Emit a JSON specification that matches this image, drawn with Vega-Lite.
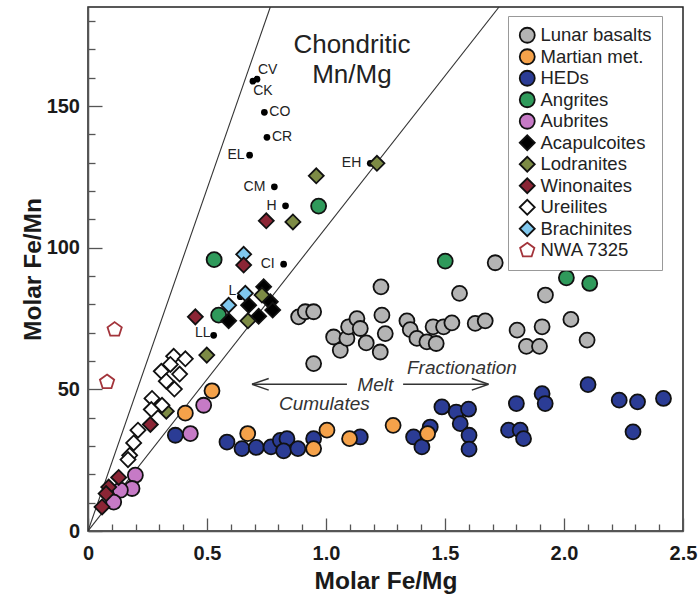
{
  "$schema": "https://vega.github.io/schema/vega-lite/v6.json",
  "width": 595,
  "height": 524,
  "autosize": {"type": "none"},
  "padding": {"left": 88, "top": 7, "right": 16, "bottom": 64},
  "background": "white",
  "config": {
    "view": {"stroke": "#222", "strokeWidth": 1.5},
    "font": "Liberation Sans",
    "axis": {
      "grid": false,
      "domainColor": "#555",
      "domainWidth": 1.5,
      "tickColor": "#555",
      "tickWidth": 1.3,
      "labelFont": "Liberation Sans",
      "labelFontWeight": "bold",
      "labelFontSize": 20,
      "labelColor": "#1a1a1a",
      "titleFont": "Liberation Sans",
      "titleFontWeight": "bold",
      "titleFontSize": 24.5,
      "titleColor": "#1a1a1a",
      "labelFlush": false
    }
  },
  "datasets": {
    "meteorites": [
      {"g": "Lunar basalts", "x": 0.885, "y": 75.6},
      {"g": "Lunar basalts", "x": 0.913, "y": 77.4},
      {"g": "Lunar basalts", "x": 0.948, "y": 77.4},
      {"g": "Lunar basalts", "x": 0.948, "y": 59.1},
      {"g": "Lunar basalts", "x": 1.032, "y": 68.5},
      {"g": "Lunar basalts", "x": 1.060, "y": 63.8},
      {"g": "Lunar basalts", "x": 1.088, "y": 68.0},
      {"g": "Lunar basalts", "x": 1.095, "y": 72.1},
      {"g": "Lunar basalts", "x": 1.130, "y": 75.0},
      {"g": "Lunar basalts", "x": 1.144, "y": 71.5},
      {"g": "Lunar basalts", "x": 1.169, "y": 66.4},
      {"g": "Lunar basalts", "x": 1.228, "y": 63.2},
      {"g": "Lunar basalts", "x": 1.235, "y": 76.2},
      {"g": "Lunar basalts", "x": 1.249, "y": 69.7},
      {"g": "Lunar basalts", "x": 1.231, "y": 86.2},
      {"g": "Lunar basalts", "x": 1.340, "y": 74.2},
      {"g": "Lunar basalts", "x": 1.354, "y": 71.1},
      {"g": "Lunar basalts", "x": 1.382, "y": 68.0},
      {"g": "Lunar basalts", "x": 1.424, "y": 66.8},
      {"g": "Lunar basalts", "x": 1.463, "y": 66.2},
      {"g": "Lunar basalts", "x": 1.450, "y": 72.1},
      {"g": "Lunar basalts", "x": 1.494, "y": 72.1},
      {"g": "Lunar basalts", "x": 1.529, "y": 73.5},
      {"g": "Lunar basalts", "x": 1.627, "y": 73.3},
      {"g": "Lunar basalts", "x": 1.669, "y": 74.2},
      {"g": "Lunar basalts", "x": 1.561, "y": 83.9},
      {"g": "Lunar basalts", "x": 1.711, "y": 94.7},
      {"g": "Lunar basalts", "x": 1.803, "y": 70.9},
      {"g": "Lunar basalts", "x": 1.842, "y": 65.2},
      {"g": "Lunar basalts", "x": 1.897, "y": 65.2},
      {"g": "Lunar basalts", "x": 1.908, "y": 72.1},
      {"g": "Lunar basalts", "x": 1.922, "y": 83.3},
      {"g": "Lunar basalts", "x": 2.029, "y": 74.7},
      {"g": "Lunar basalts", "x": 2.097, "y": 67.4},
      {"g": "HEDs", "x": 0.367, "y": 33.8},
      {"g": "HEDs", "x": 0.584, "y": 31.4},
      {"g": "HEDs", "x": 0.647, "y": 29.1},
      {"g": "HEDs", "x": 0.707, "y": 29.5},
      {"g": "HEDs", "x": 0.769, "y": 29.7},
      {"g": "HEDs", "x": 0.808, "y": 32.0},
      {"g": "HEDs", "x": 0.836, "y": 32.6},
      {"g": "HEDs", "x": 0.822, "y": 28.3},
      {"g": "HEDs", "x": 0.882, "y": 29.1},
      {"g": "HEDs", "x": 0.948, "y": 32.6},
      {"g": "HEDs", "x": 1.144, "y": 33.2},
      {"g": "HEDs", "x": 1.368, "y": 33.2},
      {"g": "HEDs", "x": 1.403, "y": 29.7},
      {"g": "HEDs", "x": 1.438, "y": 36.7},
      {"g": "HEDs", "x": 1.487, "y": 43.8},
      {"g": "HEDs", "x": 1.547, "y": 42.0},
      {"g": "HEDs", "x": 1.599, "y": 43.0},
      {"g": "HEDs", "x": 1.564, "y": 37.9},
      {"g": "HEDs", "x": 1.601, "y": 33.8},
      {"g": "HEDs", "x": 1.601, "y": 28.9},
      {"g": "HEDs", "x": 1.800, "y": 45.0},
      {"g": "HEDs", "x": 1.908, "y": 48.5},
      {"g": "HEDs", "x": 1.921, "y": 45.0},
      {"g": "HEDs", "x": 1.767, "y": 35.6},
      {"g": "HEDs", "x": 1.816, "y": 35.6},
      {"g": "HEDs", "x": 1.830, "y": 32.6},
      {"g": "HEDs", "x": 2.101, "y": 51.7},
      {"g": "HEDs", "x": 2.232, "y": 46.2},
      {"g": "HEDs", "x": 2.309, "y": 45.6},
      {"g": "HEDs", "x": 2.418, "y": 46.8},
      {"g": "HEDs", "x": 2.290, "y": 35.0},
      {"g": "Martian met.", "x": 0.521, "y": 49.5},
      {"g": "Martian met.", "x": 0.409, "y": 41.6},
      {"g": "Martian met.", "x": 0.671, "y": 34.4},
      {"g": "Martian met.", "x": 1.004, "y": 35.6},
      {"g": "Martian met.", "x": 0.948, "y": 29.1},
      {"g": "Martian met.", "x": 1.099, "y": 32.6},
      {"g": "Martian met.", "x": 1.282, "y": 37.3},
      {"g": "Martian met.", "x": 1.427, "y": 34.4},
      {"g": "Aubrites", "x": 0.199, "y": 19.7},
      {"g": "Aubrites", "x": 0.185, "y": 15.0},
      {"g": "Aubrites", "x": 0.136, "y": 14.4},
      {"g": "Aubrites", "x": 0.108, "y": 10.2},
      {"g": "Aubrites", "x": 0.430, "y": 34.4},
      {"g": "Aubrites", "x": 0.486, "y": 44.4},
      {"g": "Angrites", "x": 0.969, "y": 114.7},
      {"g": "Angrites", "x": 0.530, "y": 95.8},
      {"g": "Angrites", "x": 0.549, "y": 76.2},
      {"g": "Angrites", "x": 1.501, "y": 95.3},
      {"g": "Angrites", "x": 2.010, "y": 89.4},
      {"g": "Angrites", "x": 2.108, "y": 87.4},
      {"g": "Acapulcoites", "x": 0.738, "y": 86.2},
      {"g": "Acapulcoites", "x": 0.766, "y": 80.9},
      {"g": "Acapulcoites", "x": 0.675, "y": 79.7},
      {"g": "Acapulcoites", "x": 0.776, "y": 78.0},
      {"g": "Acapulcoites", "x": 0.717, "y": 75.8},
      {"g": "Acapulcoites", "x": 0.591, "y": 74.2},
      {"g": "Lodranites", "x": 0.959, "y": 125.4},
      {"g": "Lodranites", "x": 0.861, "y": 109.1},
      {"g": "Lodranites", "x": 1.214, "y": 129.8},
      {"g": "Lodranites", "x": 0.731, "y": 83.3},
      {"g": "Lodranites", "x": 0.672, "y": 74.2},
      {"g": "Lodranites", "x": 0.499, "y": 62.1},
      {"g": "Lodranites", "x": 0.329, "y": 42.3},
      {"g": "Brachinites", "x": 0.654, "y": 97.7},
      {"g": "Brachinites", "x": 0.661, "y": 83.9},
      {"g": "Brachinites", "x": 0.591, "y": 79.7},
      {"g": "Winonaites", "x": 0.749, "y": 109.5},
      {"g": "Winonaites", "x": 0.654, "y": 93.9},
      {"g": "Winonaites", "x": 0.451, "y": 75.6},
      {"g": "Winonaites", "x": 0.262, "y": 37.6},
      {"g": "Winonaites", "x": 0.129, "y": 18.9},
      {"g": "Winonaites", "x": 0.087, "y": 15.5},
      {"g": "Winonaites", "x": 0.076, "y": 13.2},
      {"g": "Winonaites", "x": 0.059, "y": 8.5},
      {"g": "Ureilites", "x": 0.360, "y": 61.7},
      {"g": "Ureilites", "x": 0.409, "y": 60.8},
      {"g": "Ureilites", "x": 0.346, "y": 58.8},
      {"g": "Ureilites", "x": 0.308, "y": 56.4},
      {"g": "Ureilites", "x": 0.385, "y": 55.4},
      {"g": "Ureilites", "x": 0.329, "y": 52.9},
      {"g": "Ureilites", "x": 0.363, "y": 50.1},
      {"g": "Ureilites", "x": 0.269, "y": 46.8},
      {"g": "Ureilites", "x": 0.311, "y": 44.4},
      {"g": "Ureilites", "x": 0.266, "y": 42.9},
      {"g": "Ureilites", "x": 0.210, "y": 35.6},
      {"g": "Ureilites", "x": 0.192, "y": 31.1},
      {"g": "Ureilites", "x": 0.175, "y": 26.7},
      {"g": "Ureilites", "x": 0.168, "y": 25.2},
      {"g": "NWA 7325", "x": 0.112, "y": 71.1},
      {"g": "NWA 7325", "x": 0.080, "y": 52.6}
    ],
    "chondrites": [
      {"name": "CV", "x": 0.693, "y": 158.8},
      {"name": "CK", "x": 0.710, "y": 159.5},
      {"name": "CO", "x": 0.741, "y": 147.8},
      {"name": "CR", "x": 0.752, "y": 139.0},
      {"name": "EL", "x": 0.679, "y": 132.7},
      {"name": "CM", "x": 0.783, "y": 121.5},
      {"name": "H", "x": 0.830, "y": 114.8},
      {"name": "EH", "x": 1.186, "y": 129.8},
      {"name": "CI", "x": 0.822, "y": 94.2},
      {"name": "L", "x": 0.640, "y": 82.7},
      {"name": "LL", "x": 0.528, "y": 69.1}
    ],
    "arrows": [
      {"arrow": "left", "x": 0.689, "x2": 1.088, "y": 51.8},
      {"arrow": "right", "x": 1.324, "x2": 1.683, "y": 51.8}
    ]
  },
  "layer": [
    {
      "data": {"values": [
        {"line": "a", "x": 0, "y": 0}, {"line": "a", "x": 0.766, "y": 185},
        {"line": "b", "x": 0, "y": 0}, {"line": "b", "x": 1.727, "y": 185}
      ]},
      "mark": {"type": "line", "color": "#333", "strokeWidth": 1.1, "clip": true},
      "encoding": {
        "x": {"field": "x", "type": "quantitative", "scale": {"domain": [0, 2.5], "nice": false, "zero": false},
          "axis": {"orient": "bottom", "values": [0.1,0.2,0.3,0.4,0.6,0.7,0.8,0.9,1.1,1.2,1.3,1.4,1.6,1.7,1.8,1.9,2.1,2.2,2.3,2.4], "labels": false, "tickSize": -7, "domain": false, "title": null}},
        "y": {"field": "y", "type": "quantitative", "scale": {"domain": [0, 185], "nice": false, "zero": false},
          "axis": {"orient": "left", "values": [10,20,30,40,60,70,80,90,110,120,130,140,160,170,180], "labels": false, "tickSize": -7, "domain": false, "title": null}},
        "detail": {"field": "line"}
      }
    },
    {
      "data": {"name": "chondrites"},
      "mark": {"type": "point", "filled": true, "color": "#000", "size": 45, "opacity": 1},
      "encoding": {
        "x": {"field": "x", "type": "quantitative", "scale": {"domain": [0, 2.5], "nice": false, "zero": false}, "axis": null},
        "y": {"field": "y", "type": "quantitative", "scale": {"domain": [0, 185], "nice": false, "zero": false}, "axis": null}
      }
    },
    {
      "data": {"name": "meteorites"},
      "mark": {"type": "point", "filled": true, "opacity": 1},
      "encoding": {
        "x": {"field": "x", "type": "quantitative", "scale": {"domain": [0, 2.5], "nice": false, "zero": false},
          "axis": {"orient": "bottom", "values": [0, 0.5, 1, 1.5, 2, 2.5], "format": ".1f", "labelExpr": "datum.value == 0 ? '0' : datum.label", "tickSize": -13, "labelPadding": 25, "title": "Molar Fe/Mg", "titleBaseline": "alphabetic", "titleY": 57}},
        "y": {"field": "y", "type": "quantitative", "scale": {"domain": [0, 185], "nice": false, "zero": false},
          "axis": {"orient": "left", "values": [0, 50, 100, 150], "tickSize": -14, "labelPadding": 22.5, "title": "Molar Fe/Mn", "titleBaseline": "alphabetic", "titleX": -48}},
        "fill": {"field": "g", "type": "nominal",
          "scale": {"domain": ["Lunar basalts","Martian met.","HEDs","Angrites","Aubrites","Acapulcoites","Lodranites","Winonaites","Ureilites","Brachinites","NWA 7325"],
                    "range": ["#b4b4b4","#f5a24a","#2b3c95","#2f9a5b","#c67ac6","#000000","#7d8b45","#8b2535","#ffffff","#80c8ee","#ffffff"]},
          "legend": {"title": null, "orient": "none", "legendX": 420, "legendY": 9, "padding": 10, "strokeColor": "#999", "fillColor": "#fff", "labelFont": "Liberation Sans", "labelFontSize": 18.5, "labelColor": "#222", "labelOffset": 4, "rowPadding": -1.5}},
        "stroke": {"field": "g", "type": "nominal",
          "scale": {"domain": ["Lunar basalts","Martian met.","HEDs","Angrites","Aubrites","Acapulcoites","Lodranites","Winonaites","Ureilites","Brachinites","NWA 7325"],
                    "range": ["#111","#111","#111","#111","#111","#111","#111","#111","#111","#111","#a3343b"]}},
        "strokeWidth": {"field": "g", "type": "nominal",
          "scale": {"domain": ["Lunar basalts","Martian met.","HEDs","Angrites","Aubrites","Acapulcoites","Lodranites","Winonaites","Ureilites","Brachinites","NWA 7325"],
                    "range": [1.8,1.8,1.8,1.8,1.8,1.6,1.6,1.6,1.6,1.6,3]}},
        "shape": {"field": "g", "type": "nominal",
          "scale": {"domain": ["Lunar basalts","Martian met.","HEDs","Angrites","Aubrites","Acapulcoites","Lodranites","Winonaites","Ureilites","Brachinites","NWA 7325"],
                    "range": ["circle","circle","circle","circle","circle","diamond","diamond","diamond","diamond","diamond","M0,-1L0.951,-0.309L0.588,0.809L-0.588,0.809L-0.951,-0.309Z"]}},
        "size": {"field": "g", "type": "nominal",
          "scale": {"domain": ["Lunar basalts","Martian met.","HEDs","Angrites","Aubrites","Acapulcoites","Lodranites","Winonaites","Ureilites","Brachinites","NWA 7325"],
                    "range": [225,225,225,225,225,175,150,80,130,140,250]}}
      }
    },
    {
      "data": {"name": "chondrites"},
      "transform": [{"filter": {"field": "name", "oneOf": ["CM", "H", "EH", "CI"]}}],
      "mark": {"type": "text", "align": "right", "baseline": "middle", "dx": -9, "fontSize": 14, "color": "#222"},
      "encoding": {
        "x": {"field": "x", "type": "quantitative", "scale": {"domain": [0, 2.5], "nice": false, "zero": false}, "axis": null},
        "y": {"field": "y", "type": "quantitative", "scale": {"domain": [0, 185], "nice": false, "zero": false}, "axis": null},
        "text": {"field": "name"}
      }
    },
    {
      "data": {"name": "chondrites"},
      "transform": [{"filter": {"field": "name", "oneOf": ["EL"]}}],
      "mark": {"type": "text", "align": "right", "baseline": "middle", "dx": -5, "fontSize": 14, "color": "#222"},
      "encoding": {
        "x": {"field": "x", "type": "quantitative", "scale": {"domain": [0, 2.5], "nice": false, "zero": false}, "axis": null},
        "y": {"field": "y", "type": "quantitative", "scale": {"domain": [0, 185], "nice": false, "zero": false}, "axis": null},
        "text": {"field": "name"}
      }
    },
    {
      "data": {"name": "chondrites"},
      "transform": [{"filter": {"field": "name", "oneOf": ["L"]}}],
      "mark": {"type": "text", "align": "right", "baseline": "middle", "dx": -4, "dy": -6, "fontSize": 14, "color": "#222"},
      "encoding": {
        "x": {"field": "x", "type": "quantitative", "scale": {"domain": [0, 2.5], "nice": false, "zero": false}, "axis": null},
        "y": {"field": "y", "type": "quantitative", "scale": {"domain": [0, 185], "nice": false, "zero": false}, "axis": null},
        "text": {"field": "name"}
      }
    },
    {
      "data": {"name": "chondrites"},
      "transform": [{"filter": {"field": "name", "oneOf": ["LL"]}}],
      "mark": {"type": "text", "align": "right", "baseline": "middle", "dx": -3, "dy": -2, "fontSize": 14, "color": "#222"},
      "encoding": {
        "x": {"field": "x", "type": "quantitative", "scale": {"domain": [0, 2.5], "nice": false, "zero": false}, "axis": null},
        "y": {"field": "y", "type": "quantitative", "scale": {"domain": [0, 185], "nice": false, "zero": false}, "axis": null},
        "text": {"field": "name"}
      }
    },
    {
      "data": {"name": "chondrites"},
      "transform": [{"filter": {"field": "name", "oneOf": ["CO", "CR"]}}],
      "mark": {"type": "text", "align": "left", "baseline": "middle", "dx": 5, "fontSize": 14, "color": "#222"},
      "encoding": {
        "x": {"field": "x", "type": "quantitative", "scale": {"domain": [0, 2.5], "nice": false, "zero": false}, "axis": null},
        "y": {"field": "y", "type": "quantitative", "scale": {"domain": [0, 185], "nice": false, "zero": false}, "axis": null},
        "text": {"field": "name"}
      }
    },
    {
      "data": {"name": "chondrites"},
      "transform": [{"filter": {"field": "name", "oneOf": ["CV"]}}],
      "mark": {"type": "text", "align": "left", "baseline": "middle", "dx": 5, "dy": -11, "fontSize": 14, "color": "#222"},
      "encoding": {
        "x": {"field": "x", "type": "quantitative", "scale": {"domain": [0, 2.5], "nice": false, "zero": false}, "axis": null},
        "y": {"field": "y", "type": "quantitative", "scale": {"domain": [0, 185], "nice": false, "zero": false}, "axis": null},
        "text": {"field": "name"}
      }
    },
    {
      "data": {"name": "chondrites"},
      "transform": [{"filter": {"field": "name", "oneOf": ["CK"]}}],
      "mark": {"type": "text", "align": "center", "baseline": "middle", "dx": 6, "dy": 12, "fontSize": 14, "color": "#222"},
      "encoding": {
        "x": {"field": "x", "type": "quantitative", "scale": {"domain": [0, 2.5], "nice": false, "zero": false}, "axis": null},
        "y": {"field": "y", "type": "quantitative", "scale": {"domain": [0, 185], "nice": false, "zero": false}, "axis": null},
        "text": {"field": "name"}
      }
    },
    {
      "data": {"values": [
        {"t": "Chondritic", "x": 1.109, "y": 168.6},
        {"t": "Mn/Mg", "x": 1.109, "y": 158.0}
      ]},
      "mark": {"type": "text", "align": "center", "baseline": "alphabetic", "fontSize": 26, "color": "#222"},
      "encoding": {
        "x": {"field": "x", "type": "quantitative", "scale": {"domain": [0, 2.5], "nice": false, "zero": false}, "axis": null},
        "y": {"field": "y", "type": "quantitative", "scale": {"domain": [0, 185], "nice": false, "zero": false}, "axis": null},
        "text": {"field": "t"}
      }
    },
    {
      "data": {"values": [
        {"t": "Melt", "x": 1.207, "y": 49.4},
        {"t": "Fractionation", "x": 1.571, "y": 55.6},
        {"t": "Cumulates", "x": 0.993, "y": 42.6}
      ]},
      "mark": {"type": "text", "align": "center", "baseline": "alphabetic", "fontSize": 19, "fontStyle": "italic", "color": "#333"},
      "encoding": {
        "x": {"field": "x", "type": "quantitative", "scale": {"domain": [0, 2.5], "nice": false, "zero": false}, "axis": null},
        "y": {"field": "y", "type": "quantitative", "scale": {"domain": [0, 185], "nice": false, "zero": false}, "axis": null},
        "text": {"field": "t"}
      }
    },
    {
      "data": {"name": "arrows"},
      "mark": {"type": "rule", "color": "#333", "strokeWidth": 1.5},
      "encoding": {
        "x": {"field": "x", "type": "quantitative", "scale": {"domain": [0, 2.5], "nice": false, "zero": false}, "axis": null},
        "x2": {"field": "x2"},
        "y": {"field": "y", "type": "quantitative", "scale": {"domain": [0, 185], "nice": false, "zero": false}, "axis": null}
      }
    },
    {
      "data": {"name": "arrows"},
      "transform": [{"filter": {"field": "arrow", "equal": "left"}}],
      "mark": {"type": "point", "filled": false, "color": "#333", "strokeWidth": 1.5, "size": 280, "opacity": 1, "shape": "M0,0L2,-0.7M0,0L2,0.7"},
      "encoding": {
        "x": {"field": "x", "type": "quantitative", "scale": {"domain": [0, 2.5], "nice": false, "zero": false}, "axis": null},
        "y": {"field": "y", "type": "quantitative", "scale": {"domain": [0, 185], "nice": false, "zero": false}, "axis": null}
      }
    },
    {
      "data": {"name": "arrows"},
      "transform": [{"filter": {"field": "arrow", "equal": "right"}}],
      "mark": {"type": "point", "filled": false, "color": "#333", "strokeWidth": 1.5, "size": 280, "opacity": 1, "shape": "M0,0L-2,-0.7M0,0L-2,0.7"},
      "encoding": {
        "x": {"field": "x2", "type": "quantitative", "scale": {"domain": [0, 2.5], "nice": false, "zero": false}, "axis": null},
        "y": {"field": "y", "type": "quantitative", "scale": {"domain": [0, 185], "nice": false, "zero": false}, "axis": null}
      }
    }
  ],
  "resolve": {"axis": {"x": "independent", "y": "independent"}}
}
